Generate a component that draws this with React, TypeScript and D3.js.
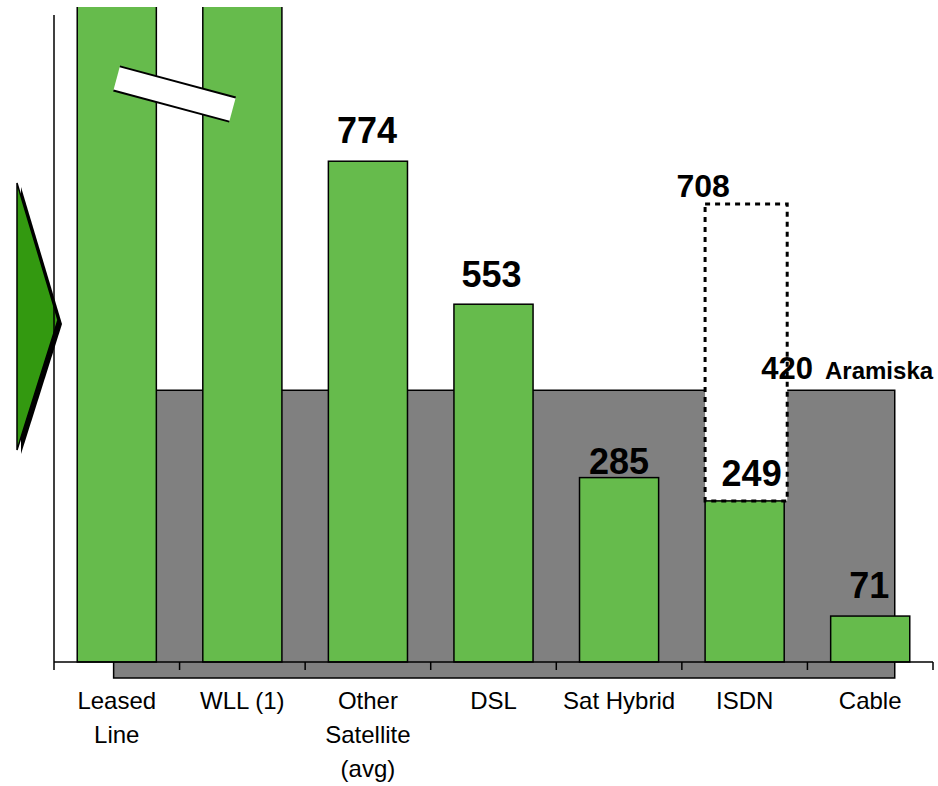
import React from "react";
import * as d3 from "d3";

// Access technologies, left to right
const categories = ["Leased Line", "WLL (1)", "Other Satellite (avg)", "DSL", "Sat Hybrid", "ISDN", "Cable"];
const categoryLines = [["Leased", "Line"], ["WLL (1)"], ["Other", "Satellite", "(avg)"], ["DSL"], ["Sat Hybrid"], ["ISDN"], ["Cable"]];
// Leased Line and WLL run off the top of the scale and are drawn broken
const values = [1250, 1150, 774, 553, 285, 249, 71];
const showValue = [false, false, true, true, true, true, true];
const isdnHigh = 708;
const benchmarkValue = 420;
const benchmarkName = "Aramiska";

const W = 938;
const H = 786;
const FONT = "'Liberation Sans', Arial, Helvetica, sans-serif";
const GREEN = "#66BB4C";
const GRAY = "#808080";

// label nudges per category (dx, dy above the bar top)
const labelDx = [0, 0, -1, -2, 0, 7, -1];
const labelGap = [0, 0, 18, 17, 4, 15, 18];

export default function App() {
  const x = d3.scaleBand<string>().domain(categories).range([54, 933]).paddingInner(0.37).paddingOuter(0.185);
  const y = d3.scaleLinear().domain([0, 1000]).range([662, 15]);
  const bw = x.bandwidth();
  const step = x.step();
  const edge = (c: string) => (x(c) as number) - (step * 0.37) / 2;
  const tickXs = [...categories.map(edge), edge(categories[6]) + step];
  const base = y(0);

  const isdnX = x("ISDN") as number;
  const grayLeft = (x(categories[0]) as number) + bw * 0.46;
  const grayRight = (x("Cable") as number) + bw * 0.81;

  const breakCx = edge("WLL (1)") - 5;
  const breakCy = 94;

  return (
    <svg width={W} height={H} style={{ position: "absolute", left: 0, top: 0, background: "#fff" }} fontFamily={FONT}>
      <defs>
        <clipPath id="plotClip">
          <rect x={0} y={7} width={W} height={H} />
        </clipPath>
      </defs>

      {/* Arrow on the left */}
      <polygon points="21,187 62,324 21,454" fill="#000" />
      <polygon points="17,183 58,320 17,450" fill="#339910" stroke="#000" strokeWidth={1.5} />

      {/* Benchmark band */}
      <rect x={grayLeft} y={y(benchmarkValue)} width={grayRight - grayLeft} height={678 - y(benchmarkValue)} fill={GRAY} stroke="#000" strokeWidth={1.5} />

      {/* white area of the ISDN range */}
      <rect x={isdnX} y={y(isdnHigh)} width={bw + 3} height={y(249) - y(isdnHigh)} fill="#fff" />

      {/* Bars */}
      <g clipPath="url(#plotClip)">
        {categories.map((c, i) => (
          <rect key={c} x={x(c)} y={Math.min(y(values[i]), y(1000)) < 7 ? 0 : y(values[i])} width={bw}
            height={base - (y(values[i]) < 7 ? 0 : y(values[i]))} fill={GREEN} stroke="#000" strokeWidth={1.5} />
        ))}
      </g>

      {/* Axes */}
      <line x1={54} y1={y(1000)} x2={54} y2={base} stroke="#000" strokeWidth={1.5} />
      <line x1={54} y1={base} x2={tickXs[tickXs.length - 1]} y2={base} stroke="#000" strokeWidth={1.5} />
      {tickXs.map((t, i) => (
        <line key={i} x1={t} y1={base} x2={t} y2={base + 8} stroke="#000" strokeWidth={1.5} />
      ))}

      {/* Break marker across the two off-scale bars */}
      <g transform={`translate(${breakCx},${breakCy}) rotate(15)`}>
        <rect x={-60} y={-12.5} width={120} height={25} fill="#fff" />
        <line x1={-60} y1={-12.5} x2={60} y2={-12.5} stroke="#000" strokeWidth={2} />
        <line x1={-60} y1={12.5} x2={60} y2={12.5} stroke="#000" strokeWidth={2} />
      </g>

      {/* Value labels */}
      {categories.map((c, i) =>
        showValue[i] ? (
          <text key={c} x={(x(c) as number) + bw / 2 + labelDx[i]} y={y(values[i]) - labelGap[i]} textAnchor="middle"
            fontSize={36} fontWeight="bold" fill="#000">
            {values[i]}
          </text>
        ) : null
      )}

      <text x={isdnX - 2} y={y(isdnHigh) - 7} textAnchor="middle" fontSize={32} fontWeight="bold">{isdnHigh}</text>
      <text x={isdnX + bw + 3} y={y(benchmarkValue) - 11} textAnchor="middle" fontSize={31} fontWeight="bold">{benchmarkValue}</text>
      <text x={825} y={y(benchmarkValue) - 11} fontSize={24} fontWeight="bold">{benchmarkName}</text>

      {/* Dotted outline of the ISDN range */}
      <rect x={isdnX} y={y(isdnHigh)} width={bw + 3} height={y(249) - y(isdnHigh)} fill="none" stroke="#000" strokeWidth={3} strokeDasharray="5,5" />

      {/* Category labels */}
      {categories.map((c, i) => (
        <text key={c} x={(x(c) as number) + bw / 2} textAnchor="middle" fontSize={24} fill="#000">
          {categoryLines[i].map((ln, j) => (
            <tspan key={j} x={(x(c) as number) + bw / 2} y={709 + j * 34}>{ln}</tspan>
          ))}
        </text>
      ))}
    </svg>
  );
}
